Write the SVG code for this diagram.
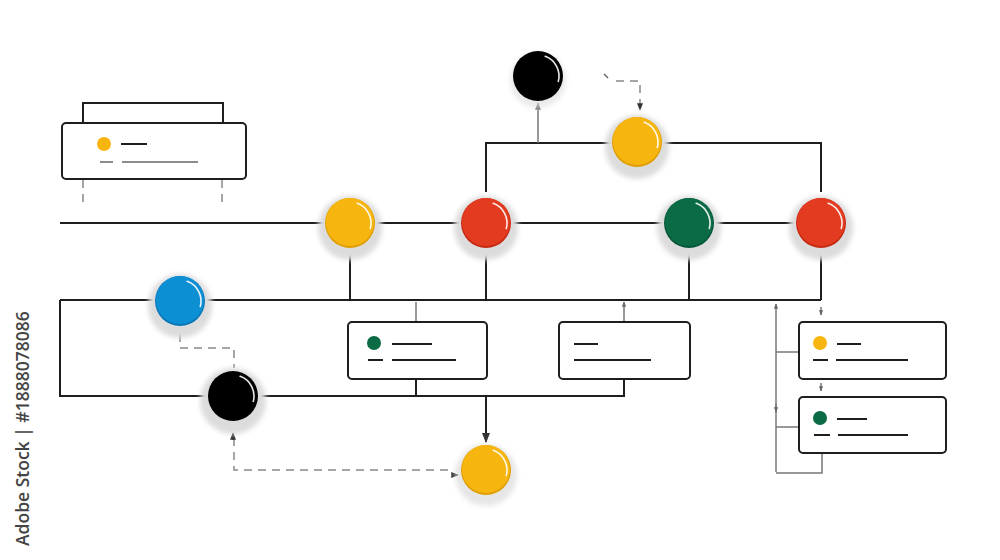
<svg xmlns="http://www.w3.org/2000/svg" width="1000" height="560" viewBox="0 0 1000 560">
<defs>
<filter id="blur" x="-50%" y="-50%" width="200%" height="200%"><feGaussianBlur stdDeviation="2.5"/></filter>
<path id="hl" d="M7.2,-19.7 A21,21 0 0 1 20.3,5.4" fill="none" stroke="#fff" stroke-width="1.6" stroke-linecap="round" opacity="0.9"/>
<marker id="ah" viewBox="0 0 10 10" refX="9" refY="5" markerWidth="5" markerHeight="5" orient="auto"><path d="M0,1 L10,5 L0,9 Z" fill="#333"/></marker>
<marker id="ahg" viewBox="0 0 10 10" refX="9" refY="5" markerWidth="5" markerHeight="5" orient="auto"><path d="M0,1 L10,5 L0,9 Z" fill="#777"/></marker>
<marker id="ahs" viewBox="0 0 10 10" refX="9" refY="5" markerWidth="3.5" markerHeight="3.5" orient="auto"><path d="M0,1 L10,5 L0,9 Z" fill="#666"/></marker>
</defs>
<style>
.main{fill:none;stroke:#1e1e1e;stroke-width:2}
.thin{fill:none;stroke:#777;stroke-width:1.5}
.dash{fill:none;stroke:#888;stroke-width:1.5;stroke-dasharray:8 6}
.box{fill:#fff;stroke:#1e1e1e;stroke-width:2}
.ln{stroke:#1e1e1e;stroke-width:2}
.lng{stroke:#666;stroke-width:1.5}
.halo{fill:#dcdcdc;filter:url(#blur)}
.wm{font-family:"Open Sans","Liberation Sans",sans-serif;font-size:17.5px;font-weight:600;fill:#444}
</style>
<rect width="1000" height="560" fill="#fff"/>

<g id="connectors">
<line class="main" x1="60" y1="223" x2="821" y2="223"/>
<polyline class="main" points="486,192 486,143 821,143 821,192"/>
<line class="thin" x1="538" y1="143" x2="538" y2="103" marker-end="url(#ahg)"/>
<line x1="604" y1="74" x2="608" y2="78" stroke="#666" stroke-width="1.5"/>
<polyline class="dash" points="616,81 640,81 640,110" marker-end="url(#ah)"/>
<line class="main" x1="60" y1="300" x2="821" y2="300"/>
<line class="main" x1="350" y1="248" x2="350" y2="300"/>
<line class="main" x1="486" y1="248" x2="486" y2="300"/>
<line class="main" x1="689" y1="248" x2="689" y2="300"/>
<line class="main" x1="821" y1="248" x2="821" y2="300"/>
<polyline class="main" points="60,300 60,396 624,396 624,379"/>
<line class="main" x1="416" y1="379" x2="416" y2="396"/>
<line class="main" x1="486" y1="396" x2="486" y2="442" marker-end="url(#ah)"/>
<line class="thin" x1="416" y1="302" x2="416" y2="322"/>
<line class="thin" x1="624" y1="322" x2="624" y2="302" marker-end="url(#ahs)"/>
<polyline class="thin" points="776,472 776,304" marker-end="url(#ahs)"/>
<polyline class="thin" points="776,473 822,473 822,453"/>
<line class="thin" x1="776" y1="352" x2="799" y2="352"/>
<line class="thin" x1="776" y1="427" x2="799" y2="427"/>
<line class="thin" x1="776" y1="404" x2="776" y2="412" marker-end="url(#ahs)"/>
<line class="thin" x1="821" y1="307" x2="821" y2="315" marker-end="url(#ahs)"/>
<line class="thin" x1="821" y1="383" x2="821" y2="391" marker-end="url(#ahs)"/>
<line class="dash" x1="83" y1="180" x2="83" y2="202"/>
<line class="dash" x1="222" y1="180" x2="222" y2="202"/>
<polyline class="dash" points="180,334 180,348 234,348 234,368"/>
<polyline class="dash" points="234,438 234,470 452,470"/>
<line x1="233" y1="440" x2="233" y2="433" stroke="#333" stroke-width="1.5" marker-end="url(#ah)"/>
<line x1="452" y1="475" x2="458" y2="475" stroke="#333" stroke-width="1.5" marker-end="url(#ah)"/>
</g>

<g id="box-topleft">
<rect x="83" y="103" width="140" height="24" fill="#fff" stroke="#1e1e1e" stroke-width="2"/>
<rect class="box" x="62" y="123" width="184" height="56" rx="4"/>
<circle cx="104" cy="144" r="7" fill="#F6B60F"/>
<line class="ln" x1="121" y1="144" x2="147" y2="144"/>
<line class="lng" x1="100" y1="162" x2="113" y2="162"/>
<line class="lng" x1="122" y1="162" x2="198" y2="162"/>
</g>

<g id="box-mid1">
<rect class="box" x="348" y="322" width="139" height="57" rx="4"/>
<circle cx="374" cy="343" r="7" fill="#0A6B45"/>
<line class="ln" x1="392" y1="344" x2="432" y2="344"/>
<line class="ln" x1="368" y1="360" x2="383" y2="360"/>
<line class="ln" x1="392" y1="360" x2="456" y2="360"/>
</g>

<g id="box-mid2">
<rect class="box" x="559" y="322" width="131" height="57" rx="4"/>
<line class="ln" x1="574" y1="344" x2="598" y2="344"/>
<line class="ln" x1="574" y1="360" x2="651" y2="360"/>
</g>

<g id="box-right1">
<rect class="box" x="799" y="322" width="147" height="57" rx="4"/>
<circle cx="820" cy="343" r="7" fill="#F6B60F"/>
<line class="ln" x1="837" y1="344" x2="861" y2="344"/>
<line class="ln" x1="813" y1="360" x2="828" y2="360"/>
<line class="ln" x1="836" y1="360" x2="908" y2="360"/>
</g>

<g id="box-right2">
<rect class="box" x="799" y="397" width="147" height="56" rx="4"/>
<circle cx="820" cy="418" r="7" fill="#0A6B45"/>
<line class="ln" x1="837" y1="419" x2="867" y2="419"/>
<line class="ln" x1="814" y1="435" x2="830" y2="435"/>
<line class="ln" x1="838" y1="435" x2="908" y2="435"/>
</g>

<g id="node-black-top" transform="translate(538,76)">
<circle class="halo" cx="0" cy="4" r="28" opacity="0.6"/>
<circle r="25" fill="#000"/>
<use href="#hl"/>
</g>
<g id="node-yellow-top" transform="translate(637,142)">
<circle class="halo" cx="0" cy="5" r="32"/>
<circle r="25" fill="#E09E00"/>
<circle cy="-1" r="24" fill="#F6B60F"/>
<use href="#hl"/>
</g>
<g id="node-yellow-mid" transform="translate(350,223)">
<circle class="halo" cx="0" cy="5" r="32"/>
<circle r="25" fill="#E09E00"/>
<circle cy="-1" r="24" fill="#F6B60F"/>
<use href="#hl"/>
</g>
<g id="node-red-mid" transform="translate(486,223)">
<circle class="halo" cx="0" cy="5" r="32"/>
<circle r="25" fill="#C62A12"/>
<circle cy="-1" r="24" fill="#E33B20"/>
<use href="#hl"/>
</g>
<g id="node-green" transform="translate(689,223)">
<circle class="halo" cx="0" cy="5" r="32"/>
<circle r="25" fill="#05573A"/>
<circle cy="-1" r="24" fill="#0A6B45"/>
<use href="#hl"/>
</g>
<g id="node-red-right" transform="translate(821,223)">
<circle class="halo" cx="0" cy="5" r="32"/>
<circle r="25" fill="#C62A12"/>
<circle cy="-1" r="24" fill="#E33B20"/>
<use href="#hl"/>
</g>
<g id="node-blue" transform="translate(180,301)">
<circle class="halo" cx="0" cy="5" r="32"/>
<circle r="25" fill="#0A77B8"/>
<circle cy="-1" r="24" fill="#0D8FD4"/>
<use href="#hl"/>
</g>
<g id="node-black-bottom" transform="translate(233,396)">
<circle class="halo" cx="0" cy="5" r="33"/>
<circle r="25" fill="#000"/>
<use href="#hl"/>
</g>
<g id="node-yellow-bottom" transform="translate(486,470)">
<circle class="halo" cx="0" cy="5" r="31" opacity="0.7"/>
<circle r="25" fill="#E09E00"/>
<circle cy="-1" r="24" fill="#F6B60F"/>
<use href="#hl"/>
</g>

<text class="wm" transform="translate(29,546) rotate(-90)">Adobe Stock | #1888078086</text>
</svg>
